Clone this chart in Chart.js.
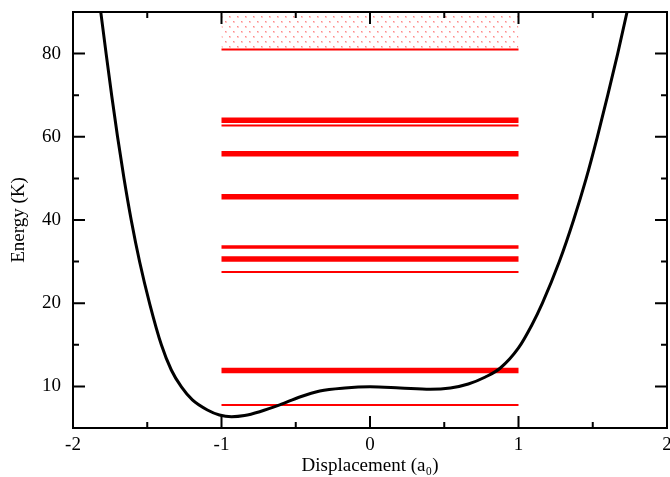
<!DOCTYPE html>
<html>
<head>
<meta charset="utf-8">
<script src="https://cdn.jsdelivr.net/npm/chart.js@4.4.1/dist/chart.umd.min.js"></script>
<style>
  html, body { margin: 0; padding: 0; background: #fff; }
  #wrap { width: 670px; height: 477px; }
</style>
</head>
<body>
<div id="wrap"><canvas id="chart"></canvas></div>
<script>
// data
const xTicks = [-2, -1, 0, 1, 2];
const xMinorTicks = [-1.5, -0.5, 0.5, 1.5];
const yTickEnergy = [10, 20, 40, 60, 80];
const yTickLabels = ['10', '20', '40', '60', '80'];
const yMinorEnergy = [15, 30, 50, 70];

// potential curve (displacement in a0, energy in K)
const curveX = [-1.849, -1.813, -1.777, -1.739, -1.700, -1.657, -1.608, -1.551, -1.483, -1.405,
  -1.338, -1.270, -1.196, -1.095, -1.014, -0.932, -0.845, -0.743, -0.608, -0.473, -0.338,
  -0.169, 0.0, 0.203, 0.405, 0.541, 0.662, 0.777, 0.878, 1.0, 1.090, 1.161, 1.275, 1.371,
  1.456, 1.531, 1.601, 1.668, 1.731, 1.792];
const curveE = [100, 90, 80, 69.8, 60, 50.1, 40, 29.9, 19.9, 15.0,
  11.97, 9.93, 8.37, 7.16, 6.56, 6.36, 6.50, 6.96, 7.77, 8.73, 9.45,
  9.81, 9.95, 9.81, 9.65, 9.81, 10.29, 11.13, 12.21, 14.62, 17.38, 20, 30, 40,
  50, 60, 70, 80, 90, 100];

// energy levels (K)
const levelE = [81.0, 64.0, 62.7, 55.9, 45.6, 33.5, 30.6, 27.5, 11.9, 7.77];
const levelKind = ['thin', 'thick', 'thin', 'thick', 'thick', 'medium', 'thick', 'thin', 'thick', 'thin'];
const levelRange = [-1, 1];
const continuumE = [81.0, 90];

// broken energy axis: 10 K per unit below 20 K, 20 K per unit above
function u(E) {
  return E <= 20 ? E / 10 : 2 + (E - 20) / 20;
}

const widths = { thin: 2, medium: 3.5, thick: 5.5 };
const FONT = 'Liberation Serif, Times New Roman, serif';

// dotted fill for the continuum
function dotPattern() {
  const c = document.createElement('canvas');
  c.width = 8; c.height = 10;
  const g = c.getContext('2d');
  g.fillStyle = 'rgba(255,60,60,0.28)';
  g.fillRect(1, 1, 2, 2);
  g.fillRect(5, 6, 2, 2);
  g.fillStyle = 'rgba(255,60,60,0.45)';
  g.fillRect(1, 1, 1, 1);
  g.fillRect(5, 6, 1, 1);
  return g.createPattern(c, 'repeat');
}

const datasets = [];
datasets.push({
  data: levelRange.map(x => ({ x: x, y: u(continuumE[1]) })),
  borderWidth: 0,
  backgroundColor: dotPattern(),
  fill: { value: u(continuumE[0]) },
  pointRadius: 0,
  order: 3
});
levelE.forEach((E, i) => {
  datasets.push({
    data: levelRange.map(x => ({ x: x, y: u(E) })),
    borderColor: '#ff0000',
    borderWidth: widths[levelKind[i]],
    pointRadius: 0,
    fill: false,
    order: 2
  });
});
datasets.push({
  data: curveX.map((x, i) => ({ x: x, y: u(curveE[i]) })),
  borderColor: '#000',
  borderWidth: 3,
  pointRadius: 0,
  fill: false,
  cubicInterpolationMode: 'monotone',
  order: 1
});

const frameTicks = {
  id: 'frameTicks',
  afterDatasetsDraw(chart) {
    const ctx = chart.ctx;
    const a = chart.chartArea;
    const xs = chart.scales.x, ys = chart.scales.y;
    ctx.save();
    // white out anything that ran past the top of the frame
    ctx.fillStyle = '#fff';
    ctx.fillRect(a.left, 0, a.right - a.left, a.top - 1);
    ctx.strokeStyle = '#000';
    ctx.lineWidth = 2;
    ctx.strokeRect(a.left, a.top, a.right - a.left, a.bottom - a.top);
    ctx.beginPath();
    const tick = (len) => (p, horiz) => {
      if (horiz) {
        ctx.moveTo(p, a.bottom); ctx.lineTo(p, a.bottom - len);
        ctx.moveTo(p, a.top); ctx.lineTo(p, a.top + len);
      } else {
        ctx.moveTo(a.left, p); ctx.lineTo(a.left + len, p);
        ctx.moveTo(a.right, p); ctx.lineTo(a.right - len, p);
      }
    };
    const major = tick(12), minor = tick(6);
    xTicks.forEach(v => major(xs.getPixelForValue(v), true));
    xMinorTicks.forEach(v => minor(xs.getPixelForValue(v), true));
    yTickEnergy.forEach(v => major(ys.getPixelForValue(u(v)), false));
    yMinorEnergy.forEach(v => minor(ys.getPixelForValue(u(v)), false));
    ctx.stroke();
    ctx.restore();
  }
};

new Chart(document.getElementById('chart'), {
  type: 'line',
  data: { datasets: datasets },
  options: {
    responsive: true,
    maintainAspectRatio: false,
    animation: false,
    layout: { padding: { top: 12, right: 3, bottom: 0, left: 0 } },
    plugins: { legend: { display: false }, tooltip: { enabled: false } },
    scales: {
      x: {
        type: 'linear',
        min: -2, max: 2,
        grid: { display: false, drawTicks: false },
        border: { display: false },
        afterBuildTicks: s => { s.ticks = xTicks.map(v => ({ value: v })); },
        afterFit: s => { s.height = 49; s.paddingLeft = 0; s.paddingRight = 0; },
        ticks: {
          color: '#000',
          font: { family: FONT, size: 19 },
          padding: 6,
          maxRotation: 0,
          autoSkip: false,
          callback: v => String(v)
        },
        title: {
          display: true,
          text: 'Displacement (a\u2080)',
          color: '#000',
          font: { family: FONT, size: 19 },
          padding: { top: 0, bottom: 0 }
        }
      },
      y: {
        type: 'linear',
        min: u(5), max: u(90),
        grid: { display: false, drawTicks: false },
        border: { display: false },
        afterBuildTicks: s => { s.ticks = yTickEnergy.map(E => ({ value: u(E) })); },
        afterFit: s => { s.width = 73; s.paddingTop = 0; s.paddingBottom = 0; },
        ticks: {
          color: '#000',
          font: { family: FONT, size: 19 },
          padding: 12,
          autoSkip: false,
          callback: (v, i) => yTickLabels[i]
        },
        title: {
          display: true,
          text: 'Energy (K)',
          color: '#000',
          font: { family: FONT, size: 19 },
          padding: { top: 8, bottom: 0 }
        }
      }
    }
  },
  plugins: [frameTicks]
});
</script>
</body>
</html>
